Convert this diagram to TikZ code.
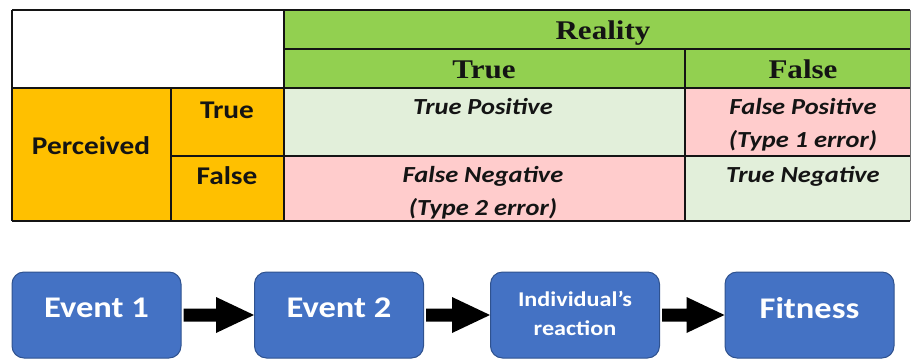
\documentclass[tikz,border=0pt]{standalone}
\usepackage{fontspec}
\setmainfont{Carlito}[FakeStretch=1.15]
\newfontfamily\headfont{Liberation Serif}[FakeStretch=1.15]
\usetikzlibrary{calc}
\definecolor{hdrgreen}{HTML}{92D050}
\definecolor{perc}{HTML}{FFC000}
\definecolor{okcell}{HTML}{E2EFDA}
\definecolor{errcell}{HTML}{FFCCCC}
\definecolor{evfill}{HTML}{4472C4}
\definecolor{evline}{HTML}{2F528F}
\definecolor{ink}{HTML}{141414}

\tikzset{
  grid/.style={draw=ink, line width=1.3pt},
  headtxt/.style={anchor=base, inner sep=0pt, text=ink, font=\headfont\bfseries\fontsize{27}{30}\selectfont},
  sidetxt/.style={anchor=base, inner sep=0pt, text=ink, font=\bfseries\fontsize{25.5}{28}\selectfont},
  celltxt/.style={anchor=base, inner sep=0pt, text=ink, font=\bfseries\itshape\fontsize{23}{26}\selectfont},
  evbox/.style={draw=evline, line width=1pt, fill=evfill, rounded corners=12pt,
    minimum width=169pt, minimum height=86pt, inner sep=0pt},
  evtxt/.style={anchor=base, inner sep=0pt, text=white, font=\bfseries\fontsize{30}{33}\selectfont},
  evsmall/.style={align=center, inner sep=0pt, text=white, font=\bfseries\fontsize{21}{29}\selectfont},
  blockarrow/.style={fill=black, to path={
    ($(\tikztostart)+(2,-6.5)$) -- ($(\tikztotarget)+(-38,-6.5)$) -- ($(\tikztotarget)+(-38,-18)$)
    -- (\tikztotarget) -- ($(\tikztotarget)+(-38,18)$) -- ($(\tikztotarget)+(-38,6.5)$)
    -- ($(\tikztostart)+(2,6.5)$) -- cycle}}
}

\begin{document}
\begin{tikzpicture}[x=1pt,y=-1pt]
\useasboundingbox (0,0) rectangle (911,360);

% table cell fills
\fill[white]   (12,10)   rectangle (284,88);
\fill[hdrgreen](284,10)  rectangle (910,88);
\fill[perc]    (12,88)   rectangle (284,221);
\fill[okcell]  (284,88)  rectangle (685,156);
\fill[errcell] (685,88)  rectangle (910,156);
\fill[errcell] (284,156) rectangle (685,221);
\fill[okcell]  (685,156) rectangle (910,221);

% table rules
\draw[grid] (12,10) -- (910,10);
\draw[grid] (284,49) -- (910,49);
\draw[grid] (12,88) -- (910,88);
\draw[grid] (171,156) -- (910,156);
\draw[grid] (12,221) -- (910,221);
\draw[grid] (12,10) -- (12,221);
\draw[grid] (284,10) -- (284,221);
\draw[grid] (171,88) -- (171,221);
\draw[grid] (685,49) -- (685,221);
\draw[draw=ink!60, line width=1pt] (910,10) -- (910,221);

% headers
\node[headtxt] (reality) at (603,39) {Reality};
\node[headtxt] (coltrue) at (484,78) {True};
\node[headtxt] (colfalse) at (803,78) {False};
\node[sidetxt] (perceived) at (91,154) {Perceived};
\node[sidetxt] (rowtrue) at (227,118) {True};
\node[sidetxt] (rowfalse) at (227,184) {False};

% cells
\node[celltxt] (tp) at (483,114) {True Positive};
\node[celltxt] (fp) at (803,114) {False Positive};
\node[celltxt] (fpnote) at (803,147) {(Type 1 error)};
\node[celltxt] (fn) at (483,182) {False Negative};
\node[celltxt] (fnnote) at (483,215) {(Type 2 error)};
\node[celltxt] (tn) at (803,182) {True Negative};

% chain of events
\node[evbox] (e1) at (96.5,315) {};
\node[evbox] (e2) at (339,315) {};
\node[evbox] (e3) at (575,315) {};
\node[evbox] (e4) at (809.5,315) {};

\node[evtxt] (e1t) at (96.5,317) {Event 1};
\node[evtxt] (e2t) at (339,317) {Event 2};
\node[evsmall] (e3t) at (575,313) {Individual’s\\reaction};
\node[evtxt] (e4t) at (809.5,318) {Fitness};

\path[blockarrow] (e1.east) to (e2.west);
\path[blockarrow] (e2.east) to (e3.west);
\path[blockarrow] (e3.east) to (e4.west);
\end{tikzpicture}
\end{document}
